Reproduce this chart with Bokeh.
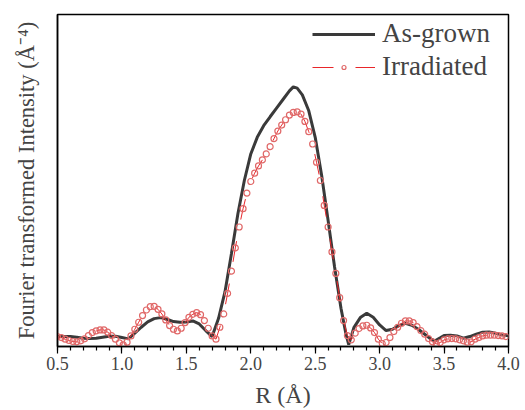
from bokeh.plotting import figure
from bokeh.models import Range1d, SingleIntervalTicker, FixedTicker, PrintfTickFormatter, Legend, LegendItem
from bokeh.embed import file_html
from bokeh.resources import INLINE

# As-grown (solid line)
r_grown = [0.50, 0.55, 0.60, 0.65, 0.70, 0.75, 0.80, 0.85, 0.90, 0.95,
           1.00, 1.05, 1.10, 1.15, 1.20, 1.25, 1.30, 1.35, 1.40, 1.45,
           1.50, 1.55, 1.60, 1.65, 1.70, 1.75, 1.80, 1.85, 1.90, 1.95,
           2.00, 2.05, 2.10, 2.15, 2.20, 2.25, 2.30, 2.33, 2.36, 2.40,
           2.45, 2.50, 2.55, 2.60, 2.65, 2.70, 2.74, 2.76, 2.80, 2.85,
           2.90, 2.95, 3.00, 3.05, 3.10, 3.15, 3.20, 3.25, 3.30, 3.35,
           3.40, 3.43, 3.47, 3.50, 3.55, 3.60, 3.65, 3.70, 3.75, 3.80,
           3.85, 3.90, 3.95, 4.00]
i_grown = [0.30, 0.30, 0.30, 0.28, 0.25, 0.24, 0.25, 0.28, 0.31, 0.31,
           0.27, 0.23, 0.40, 0.58, 0.74, 0.84, 0.87, 0.82, 0.75, 0.73,
           0.74, 0.77, 0.68, 0.48, 0.30, 0.85, 1.65, 2.80, 4.00, 5.00,
           5.80, 6.30, 6.65, 6.92, 7.18, 7.44, 7.70, 7.82, 7.78, 7.58,
           7.10, 6.30, 5.15, 3.80, 2.40, 1.15, 0.35, 0.06, 0.57, 0.87,
           1.00, 0.88, 0.65, 0.48, 0.52, 0.63, 0.70, 0.64, 0.52, 0.37,
           0.22, 0.17, 0.26, 0.33, 0.34, 0.32, 0.25, 0.30, 0.37, 0.43,
           0.44, 0.40, 0.35, 0.32]

# Irradiated (dashed line with open circles)
r_irr = [0.50, 0.53, 0.56, 0.59, 0.62, 0.65, 0.68, 0.71, 0.74, 0.77,
         0.80, 0.83, 0.86, 0.89, 0.92, 0.95, 0.98, 1.01, 1.04, 1.07,
         1.10, 1.13, 1.16, 1.19, 1.22, 1.25, 1.28, 1.31, 1.34, 1.37,
         1.40, 1.43, 1.46, 1.49, 1.52, 1.55, 1.58, 1.61, 1.64, 1.67,
         1.70, 1.73, 1.76, 1.79, 1.82, 1.85, 1.88, 1.91, 1.94, 1.97,
         2.00, 2.03, 2.06, 2.09, 2.12, 2.15, 2.18, 2.21, 2.24, 2.27,
         2.30, 2.33, 2.36, 2.39, 2.42, 2.45, 2.48, 2.51, 2.54, 2.57,
         2.60, 2.63, 2.66, 2.69, 2.72, 2.75, 2.78, 2.81, 2.84, 2.87,
         2.90, 2.93, 2.96, 2.99, 3.02, 3.05, 3.08, 3.11, 3.14, 3.17,
         3.20, 3.23, 3.26, 3.29, 3.32, 3.35, 3.38, 3.41, 3.44, 3.47,
         3.50, 3.53, 3.56, 3.59, 3.62, 3.65, 3.68, 3.71, 3.74, 3.77,
         3.80, 3.83, 3.86, 3.89, 3.92, 3.95, 3.98]
i_irr = [0.30, 0.27, 0.22, 0.18, 0.15, 0.14, 0.17, 0.23, 0.33, 0.42,
         0.47, 0.50, 0.50, 0.43, 0.33, 0.22, 0.11, 0.05, 0.13, 0.32,
         0.52, 0.73, 0.93, 1.10, 1.20, 1.21, 1.12, 0.98, 0.80, 0.63,
         0.52, 0.47, 0.55, 0.72, 0.88, 0.97, 1.02, 0.96, 0.78, 0.55,
         0.32, 0.22, 0.58, 0.98, 1.60, 2.27, 2.97, 3.60, 4.15, 4.62,
         4.97, 5.22, 5.44, 5.62, 5.80, 6.02, 6.26, 6.49, 6.67, 6.83,
         6.97, 7.05, 7.07, 7.00, 6.78, 6.47, 6.10, 5.55, 5.00, 4.25,
         3.60, 2.85, 2.20, 1.47, 0.78, 0.33, 0.20, 0.40, 0.54, 0.62,
         0.64, 0.56, 0.42, 0.22, 0.09, 0.12, 0.27, 0.45, 0.58, 0.70,
         0.77, 0.77, 0.72, 0.60, 0.48, 0.37, 0.24, 0.14, 0.08, 0.12,
         0.20, 0.23, 0.24, 0.23, 0.20, 0.17, 0.13, 0.14, 0.22, 0.27,
         0.32, 0.34, 0.34, 0.34, 0.33, 0.32, 0.30]

x_ticks_interval = 0.5
FONT = "Liberation Serif"

p = figure(width=525, height=410, output_backend="svg", toolbar_location=None,
           x_range=Range1d(0.5, 4.0), y_range=Range1d(0, 10),
           min_border_left=57, min_border_right=17, min_border_top=14, min_border_bottom=63)
p.grid.visible = False
p.outline_line_color = "black"
p.outline_line_width = 1.5
p.background_fill_color = "white"

l1 = p.line(r_grown, i_grown, line_color="#3a3a3a", line_width=3)
l2 = p.line(r_irr, i_irr, line_color="#e8262a", line_width=1, line_dash="21 22")
s2 = p.scatter(r_irr, i_irr, size=6, marker="circle", line_color="#e06868",
               line_width=1.2, fill_alpha=0)

xa = p.xaxis[0]
xa.ticker = SingleIntervalTicker(interval=x_ticks_interval, num_minor_ticks=5)
xa.formatter = PrintfTickFormatter(format="%.1f")
xa.axis_label = "R (Å)"
xa.axis_label_text_font = FONT
xa.axis_label_text_font_style = "normal"
xa.axis_label_text_font_size = "24px"
xa.axis_label_standoff = 9
xa.major_label_text_font = FONT
xa.major_label_text_font_size = "18px"
xa.major_label_standoff = 3
xa.major_tick_in = 0
xa.major_tick_out = 7
xa.minor_tick_in = 0
xa.minor_tick_out = 4
xa.axis_line_width = 1.5
xa.major_tick_line_width = 1.2
xa.minor_tick_line_width = 1.2

ya = p.yaxis[0]
ya.ticker = FixedTicker(ticks=[])
ya.axis_label = "Fourier transformed Intensity (Å⁻⁴)"
ya.axis_label_text_font = FONT
ya.axis_label_text_font_style = "normal"
ya.axis_label_text_font_size = "22.5px"
ya.axis_label_standoff = 19
ya.axis_line_width = 1.5
ya.major_tick_line_color = None
ya.minor_tick_line_color = None

legend = Legend(items=[LegendItem(label="As-grown", renderers=[l1]),
                       LegendItem(label="Irradiated", renderers=[l2, s2])],
                location=(255, 264))
legend.label_text_font = FONT
legend.label_text_font_size = "27px"
legend.glyph_width = 63
legend.glyph_height = 10
legend.label_height = 30
legend.label_standoff = 7
legend.spacing = 2
legend.margin = 0
legend.padding = 0
legend.border_line_alpha = 0
legend.background_fill_alpha = 0
p.add_layout(legend)

open("out.html", "w").write(file_html(p, INLINE))
